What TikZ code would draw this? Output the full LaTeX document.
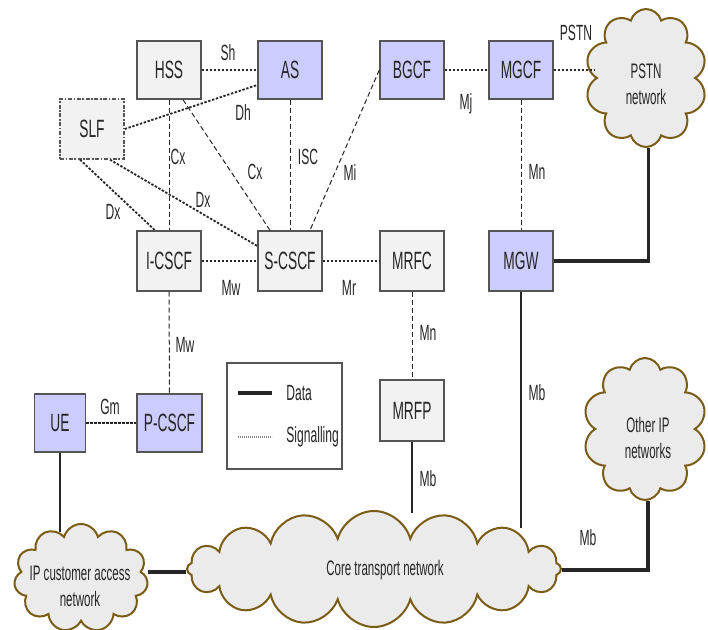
\documentclass[tikz,border=0pt]{standalone}
\usepackage{fontspec}
\setmainfont{Liberation Sans}[FakeStretch=0.55]
\usetikzlibrary{shapes.symbols}
\definecolor{lav}{HTML}{CCCCFF}
\definecolor{boxgray}{HTML}{F2F2F2}
\definecolor{cloudfill}{HTML}{EBEBEB}
\definecolor{cloudline}{HTML}{7A5C14}
\definecolor{edge}{HTML}{555555}
\definecolor{ink}{HTML}{262626}
\begin{document}
\begin{tikzpicture}[x=0.5pt,y=-0.5pt,
  box/.style={draw=edge, line width=0.7pt, fill=boxgray, minimum width=32pt, minimum height=29pt,
    inner sep=0pt, font=\fontsize{12.5}{14}\selectfont, text=ink},
  lbox/.style={box, fill=lav},
  net/.style={cloud, cloud puffs=#1, cloud ignores aspect, draw=cloudline, line width=1pt,
    fill=cloudfill, inner sep=0pt},
  net/.default=11,
  ntext/.style={align=center, font=\fontsize{10.5}{13}\selectfont, text=ink, inner sep=0pt},
  sigdot/.style={draw=ink, line width=0.9pt, dash pattern=on 1.2pt off 0.8pt},
  sigdash/.style={draw=ink, line width=0.5pt, dash pattern=on 2.5pt off 1.5pt},
  data/.style={draw=ink, line width=1.6pt},
  mid/.style={draw=ink, line width=0.8pt},
  lab/.style={font=\fontsize{11}{12}\selectfont, text=ink, inner sep=0pt}]
\useasboundingbox (0,0) rectangle (708,630);

% clouds
\node[net=10, minimum width=61pt, minimum height=69pt] (pstn) at (646,78) {};
\node[ntext] (pstnt) at (646,84) {PSTN\\network};
\node[net=10, minimum width=62pt, minimum height=71pt] (other) at (645,429) {};
\node[ntext] (othert) at (648,438) {Other IP\\networks};
\node[net=11, minimum width=67pt, minimum height=54pt] (access) at (81,578) {};
\node[ntext] (accesst) at (80,586) {IP customer access\\network};
\node[net=16, minimum width=187pt, minimum height=58pt] (core) at (374,569) {};
\node[ntext] (coret) at (385,570) {Core transport network};

% boxes
\node[box] (hss) at (169,70) {HSS};
\node[lbox] (as) at (290,70) {AS};
\node[box, dash pattern=on 2pt off 0.8pt on 0.8pt off 0.8pt, minimum height=30pt] (slf) at (92,129) {SLF};
\node[lbox] (bgcf) at (412,70) {BGCF};
\node[lbox] (mgcf) at (521,70) {MGCF};
\node[box, minimum height=30pt] (icscf) at (169,261) {I-CSCF};
\node[box, minimum height=30pt] (scscf) at (290,261) {S-CSCF};
\node[box, minimum height=30pt] (mrfc) at (412,261) {MRFC};
\node[lbox, minimum height=30pt] (mgw) at (521,261) {MGW};
\node[lbox, minimum width=32.5pt] (pcscf) at (169.5,423) {P-CSCF};
\node[lbox, minimum width=25.5pt] (ue) at (60,423) {UE};
\node[box, minimum height=30.5pt] (mrfp) at (412,410.5) {MRFP};

% legend
\node[draw=edge, line width=0.7pt, fill=white, minimum width=57.5pt, minimum height=53pt, inner sep=0pt] (leg) at (284.5,416) {};
\coordinate (lda) at (238,393);
\coordinate (ldb) at (272,393);
\coordinate (lsa) at (238,437);
\coordinate (lsb) at (272,437);
\draw[data] (lda) -- (ldb);
\draw[draw=black!45, line width=0.9pt, dash pattern=on 0.6pt off 0.4pt] (lsa) -- (lsb);
\node[lab, anchor=west] (ldt) at (286,393) {Data};
\node[lab, anchor=west] (lst) at (286,437) {Signalling};

% signalling connectors
\draw[sigdot] (hss) -- (as);
\draw[sigdot] (slf.east) -- ([yshift=-7.5pt]as.west);
\draw[sigdash] (hss.south) -- (icscf.north);
\draw[sigdash] ([xshift=7pt]hss.south) -- ([xshift=-10pt]scscf.north);
\draw[sigdash] (as) -- (scscf);
\draw[sigdash] (bgcf.west) -- ([xshift=10pt]scscf.north);
\draw[sigdot] ([xshift=-6pt]slf.south) -- ([xshift=-7pt]icscf.north);
\draw[sigdot] ([xshift=9pt]slf.south) -- ([yshift=7.5pt]scscf.west);
\draw[sigdot] (bgcf) -- (mgcf);
\draw[sigdot] (mgcf.east) -- (mgcf.east -| pstn.west);
\draw[sigdash] (mgcf) -- (mgw);
\draw[sigdot] (icscf) -- (scscf);
\draw[sigdot] (scscf) -- (mrfc);
\draw[sigdash] (mrfc) -- (mrfp);
\draw[sigdash] (icscf) -- (pcscf);
\draw[sigdot] (ue) -- (pcscf);

% data connectors
\coordinate (mgwend) at (521,528);
\coordinate (mrfpend) at (412,513);
\coordinate (ueend) at (60,532);
\draw[data] (mgw.east) -- ++(95,0) coordinate (pturn) -- (pturn |- pstn.south);
\draw[mid] (mgw.south) -- (mgwend);
\draw[mid] (mrfp.south) -- (mrfpend);
\draw[mid] (ue.south) -- (ueend);
\draw[data] (core.east |- 0,570) -- (648,570) coordinate (oturn) -- (oturn |- other.south);
\draw[data] (access.east |- 0,572) -- (core.west |- 0,572);

% labels
\node[lab] (lsh) at (228,53) {Sh};
\node[lab] (ldh) at (243,113) {Dh};
\node[lab] (lcx1) at (178,157) {Cx};
\node[lab] (lcx2) at (255,172) {Cx};
\node[lab] (lisc) at (308,157) {ISC};
\node[lab] (lmi) at (350,173) {Mi};
\node[lab] (ldx1) at (113,212) {Dx};
\node[lab] (ldx2) at (203,200) {Dx};
\node[lab] (lmj) at (466,104) {Mj};
\node[lab] (lpstn) at (576,33) {PSTN};
\node[lab] (lmn1) at (537,172) {Mn};
\node[lab] (lmw1) at (231,288) {Mw};
\node[lab] (lmr) at (349,288) {Mr};
\node[lab] (lmn2) at (428,333) {Mn};
\node[lab] (lmw2) at (185,345) {Mw};
\node[lab] (lgm) at (110,407) {Gm};
\node[lab] (lmb1) at (537,393) {Mb};
\node[lab] (lmb2) at (428,479) {Mb};
\node[lab] (lmb3) at (588,538) {Mb};
\end{tikzpicture}
\end{document}
